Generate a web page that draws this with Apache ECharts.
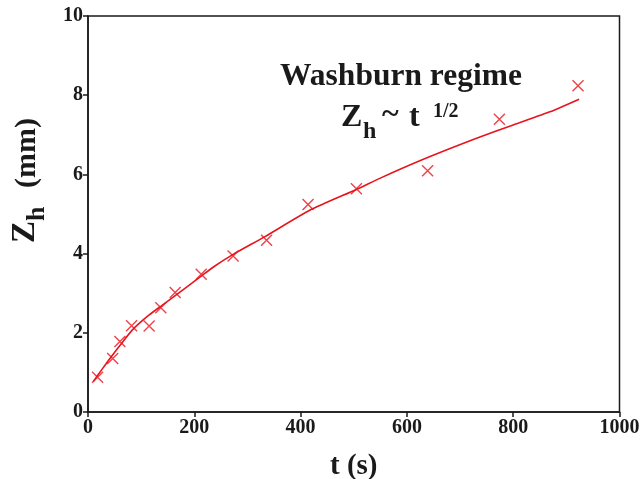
<!DOCTYPE html>
<html>
<head>
<meta charset="utf-8">
<script src="https://cdn.jsdelivr.net/npm/echarts@6/dist/echarts.min.js"></script>
<style>
  html, body { margin: 0; padding: 0; background: #fff; }
  #chart { width: 640px; height: 479px; }
</style>
</head>
<body>
<div id="chart"></div>
<script>
// Measured rise height vs time (crosses)
const measT = [18, 46.5, 60, 82, 115, 137, 164, 213, 273, 336, 414, 505, 639, 774, 922];
const measZ = [0.88, 1.35, 1.78, 2.18, 2.17, 2.63, 3.02, 3.48, 3.94, 4.34, 5.24, 5.64, 6.09, 7.39, 8.24];

// Washburn fit curve
const fitT = [10, 18, 34, 47, 60, 84, 115, 140, 178, 213, 238, 273, 333, 418, 505, 549, 631, 731, 800, 869, 924];
const fitZ = [0.77, 0.92, 1.22, 1.45, 1.68, 2.08, 2.45, 2.70, 3.08, 3.43, 3.68, 3.98, 4.43, 5.10, 5.62, 5.90, 6.38, 6.91, 7.25, 7.58, 7.90];

// Axis ticks
const xTicks = [0, 200, 400, 600, 800, 1000];
const yTicks = [0, 2, 4, 6, 8, 10];

const RED = '#e8141c';
const INK = '#1a1a1a';
const SERIF = '"Liberation Serif", "DejaVu Serif", serif';

const chart = echarts.init(document.getElementById('chart'), null, { renderer: 'canvas' });

const tickLabel = {
  color: INK, fontFamily: SERIF, fontWeight: 'bold', fontSize: 20,
  formatter: v => String(v)
};

chart.setOption({
  animation: false,
  backgroundColor: '#fff',
  grid: {
    left: 88, right: 20.5, top: 16, bottom: 67,
    containLabel: false,
    outerBoundsMode: 'none',
    show: true, borderColor: INK, borderWidth: 1.5
  },
  xAxis: {
    type: 'value',
    min: xTicks[0], max: xTicks[xTicks.length - 1],
    interval: xTicks[1] - xTicks[0],
    axisLine: { lineStyle: { color: INK, width: 1.5 } },
    axisTick: { inside: false, length: 5, lineStyle: { color: INK, width: 1.5 } },
    axisLabel: Object.assign({ margin: 6 }, tickLabel),
    splitLine: { show: false },
    name: 't (s)',
    nameLocation: 'middle',
    nameGap: 40,
    nameTextStyle: { color: INK, fontFamily: SERIF, fontWeight: 'bold', fontSize: 29 }
  },
  yAxis: {
    type: 'value',
    min: yTicks[0], max: yTicks[yTicks.length - 1],
    interval: yTicks[1] - yTicks[0],
    axisLine: { lineStyle: { color: INK, width: 1.5 } },
    axisTick: { inside: false, length: 5, lineStyle: { color: INK, width: 1.5 } },
    axisLabel: Object.assign({ margin: 5 }, tickLabel),
    splitLine: { show: false }
  },
  series: [
    {
      type: 'line',
      data: fitT.map((t, i) => [t, fitZ[i]]),
      showSymbol: false,
      smooth: 0.2,
      lineStyle: { color: RED, width: 1.6 },
      z: 2
    },
    {
      type: 'scatter',
      data: measT.map((t, i) => [t, measZ[i]]),
      symbol: 'path://M0,0L10,10M10,0L0,10',
      symbolSize: 11,
      itemStyle: { color: 'none', borderColor: RED, borderWidth: 1.4 },
      z: 3
    }
  ],
  graphic: [
    {
      type: 'text',
      style: {
        text: 'Washburn regime', x: 401, y: 93,
        fill: INK, font: 'bold 31.5px ' + SERIF,
        textAlign: 'center', textVerticalAlign: 'bottom'
      }
    },
    { type: 'text', style: { text: 'Z', x: 341, y: 134, fill: INK, font: 'bold 32px ' + SERIF, textVerticalAlign: 'bottom' } },
    { type: 'text', style: { text: 'h', x: 363, y: 144, fill: INK, font: 'bold 24px ' + SERIF, textVerticalAlign: 'bottom' } },
    { type: 'text', style: { text: '~', x: 382, y: 131, fill: INK, font: 'bold 32px ' + SERIF, textVerticalAlign: 'bottom' } },
    { type: 'text', style: { text: 't', x: 409, y: 134, fill: INK, font: 'bold 32px ' + SERIF, textVerticalAlign: 'bottom' } },
    { type: 'text', style: { text: '1/2', x: 433, y: 122, fill: INK, font: 'bold 20px ' + SERIF, textVerticalAlign: 'bottom' } },
    // y-axis title, rotated
    { type: 'text', x: 42, y: 243, rotation: Math.PI / 2,
      style: { text: 'Z', x: 0, y: 0, fill: INK, font: 'bold 33px ' + SERIF, textVerticalAlign: 'bottom' } },
    { type: 'text', x: 50, y: 221, rotation: Math.PI / 2,
      style: { text: 'h', x: 0, y: 0, fill: INK, font: 'bold 26px ' + SERIF, textVerticalAlign: 'bottom' } },
    { type: 'text', x: 42, y: 188, rotation: Math.PI / 2,
      style: { text: '(mm)', x: 0, y: 0, fill: INK, font: 'bold 30px ' + SERIF, textVerticalAlign: 'bottom' } }
  ]
});
</script>
</body>
</html>
